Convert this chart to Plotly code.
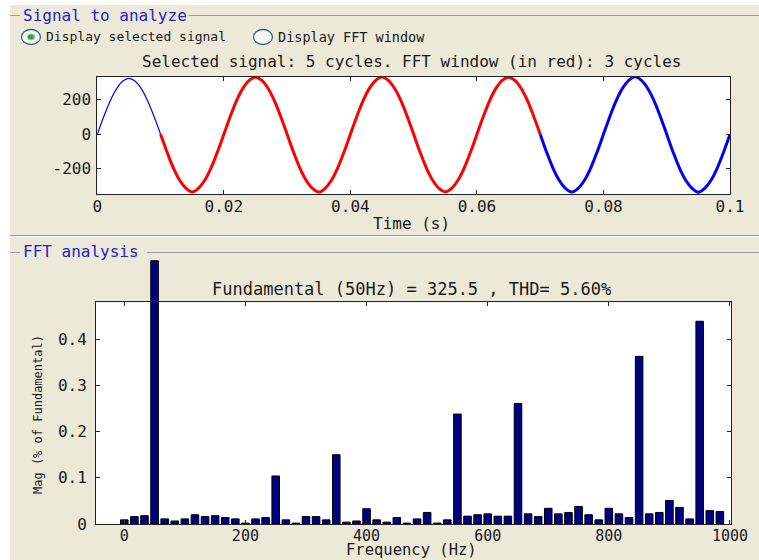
import plotly.graph_objects as go

# ---- data -------------------------------------------------------------
# selected signal, one sample per millisecond (V)
signal_t = [i / 1000 for i in range(101)]
signal_v = [
    0, 100, 190, 262, 308, 324, 308, 262, 190, 100,
    0, -101, -193, -265, -312, -334, -312, -265, -193, -101,
    0, 102, 194, 266, 313, 331, 313, 266, 194, 102,
    0, -102, -194, -266, -313, -335, -313, -266, -194, -102,
    0, 102, 194, 266, 313, 332, 313, 266, 194, 102,
    0, -102, -194, -266, -313, -333, -313, -266, -194, -102,
    0, 102, 194, 266, 313, 331, 313, 266, 194, 102,
    0, -102, -194, -266, -313, -334, -313, -266, -194, -102,
    0, 102, 194, 266, 313, 333, 313, 266, 194, 102,
    0, -102, -194, -266, -313, -336, -313, -266, -194, -102,
    0,
]
window_start, window_end = 0.01, 0.07   # FFT window (3 cycles)

# FFT bins, resolution 50/3 Hz
fft_freq = [k * 50 / 3 for k in range(60)]
fft_mag = [
    0.009, 0.016, 0.018, 0.570, 0.011, 0.0065, 0.011, 0.020, 0.016, 0.018,
    0.014, 0.011, 0.002, 0.011, 0.014, 0.104, 0.009, 0.002, 0.016, 0.016,
    0.009, 0.150, 0.004, 0.0065, 0.033, 0.009, 0.004, 0.014, 0.002, 0.011,
    0.025, 0.002, 0.009, 0.238, 0.017, 0.020, 0.022, 0.017, 0.017, 0.261,
    0.022, 0.016, 0.034, 0.022, 0.025, 0.038, 0.020, 0.009, 0.034, 0.022,
    0.014, 0.363, 0.022, 0.025, 0.051, 0.036, 0.011, 0.439, 0.029, 0.027,
]
fundamental_hz = 50

time_ticks = [0, 0.02, 0.04, 0.06, 0.08, 0.1]
time_labels = ["0", "0.02", "0.04", "0.06", "0.08", "0.1"]
volt_ticks = [-200, 0, 200]
volt_labels = ["-200", "0", "200"]
freq_ticks = [0, 200, 400, 600, 800, 1000]
freq_labels = ["0", "200", "400", "600", "800", "1000"]
mag_ticks = [0, 0.1, 0.2, 0.3, 0.4]
mag_labels = ["0", "0.1", "0.2", "0.3", "0.4"]

# ---- helpers: figure pixels -> paper coordinates ------------------------
W, H = 759, 560
FONT = "DejaVu Sans Mono"


def px(x):
    return x / W


def py(y):
    return 1 - y / H


# pixel geometry of the two axes boxes
TOP_BOX = dict(left=97.3, right=730, top=76.7, bottom=194)
FFT_BOX = dict(left=96, right=731, top=302.3, bottom=524)
MAG_MAX = 0.48
# taller invisible axis with the same scale, so the fundamental may rise above the box
BAR_TOP = 252
bar_range_top = MAG_MAX * (FFT_BOX["bottom"] - BAR_TOP) / (FFT_BOX["bottom"] - FFT_BOX["top"])

fig = go.Figure()

# signal split into: before window, FFT window, after window
i0 = signal_t.index(window_start)
i1 = signal_t.index(window_end)
segments = [
    (0, i0, "#0000ff", 1.2),
    (i0, i1, "#ff0000", 3),
    (i1, len(signal_t) - 1, "#0000ff", 3),
]
for a, b, color, width in segments:
    fig.add_trace(go.Scatter(
        x=signal_t[a:b + 1], y=signal_v[a:b + 1], mode="lines",
        line=dict(color=color, width=width, shape="spline"),
        xaxis="x", yaxis="y", hoverinfo="skip",
    ))

bar_style = dict(color="#000080", line=dict(color="#000000", width=1))
is_fund = [abs(f - fundamental_hz) < 1e-6 for f in fft_freq]
fig.add_trace(go.Bar(
    x=[f for f, m in zip(fft_freq, is_fund) if not m],
    y=[v for v, m in zip(fft_mag, is_fund) if not m],
    width=12.5, marker=bar_style, xaxis="x2", yaxis="y2",
))
fig.add_trace(go.Bar(
    x=[f for f, m in zip(fft_freq, is_fund) if m],
    y=[v for v, m in zip(fft_mag, is_fund) if m],
    width=12.5, marker=bar_style, xaxis="x2", yaxis="y3",
))

axis_common = dict(
    showgrid=False, zeroline=False, showline=True, linecolor="#222222",
    linewidth=1, mirror="ticks", ticks="inside", ticklen=4,
    tickcolor="#222222", tickmode="array",
    tickfont=dict(family=FONT, size=16, color="#1a1a1a"),
)

fig.update_layout(
    width=W, height=H, margin=dict(l=0, r=0, t=0, b=0, autoexpand=False),
    paper_bgcolor="#ece9d8", plot_bgcolor="rgba(0,0,0,0)", showlegend=False,
    xaxis=dict(domain=[px(TOP_BOX["left"]), px(TOP_BOX["right"])], range=[0, 0.1],
               anchor="y", tickvals=time_ticks, ticktext=time_labels,
               ticklabelstandoff=-2, **axis_common),
    yaxis=dict(domain=[py(TOP_BOX["bottom"]), py(TOP_BOX["top"])], range=[-346, 334],
               anchor="x", tickvals=volt_ticks, ticktext=volt_labels,
               ticklabelstandoff=2, **axis_common),
    xaxis2=dict(domain=[px(FFT_BOX["left"]), px(FFT_BOX["right"])], range=[-46.7, 1001.7],
                anchor="y2", tickvals=freq_ticks, ticktext=freq_labels,
                ticklabelstandoff=-2, **{**axis_common,
                                         "tickfont": dict(family=FONT, size=15, color="#1a1a1a")}),
    yaxis2=dict(domain=[py(FFT_BOX["bottom"]), py(FFT_BOX["top"])], range=[0, MAG_MAX],
                anchor="x2", tickvals=mag_ticks, ticktext=mag_labels,
                ticklabelstandoff=5, **axis_common),
    yaxis3=dict(domain=[py(FFT_BOX["bottom"]), py(BAR_TOP)], range=[0, bar_range_top],
                anchor="x2", visible=False, showgrid=False, zeroline=False),
)

# ---- panel decoration -------------------------------------------------
shapes = [
    dict(type="rect", xref="paper", yref="paper", x0=0, x1=px(10), y0=0, y1=1,
         fillcolor="#ffffff", line=dict(width=0), layer="below"),
    dict(type="rect", xref="paper", yref="paper", x0=0, x1=1, y0=py(5), y1=1,
         fillcolor="#ffffff", line=dict(width=0), layer="below"),
]
for box in (TOP_BOX, FFT_BOX):
    shapes.append(dict(type="rect", xref="paper", yref="paper",
                       x0=px(box["left"]), x1=px(box["right"]),
                       y0=py(box["bottom"]), y1=py(box["top"]),
                       fillcolor="#ffffff", line=dict(width=0), layer="below"))
gray = "#9c9c9c"


def hline(x0, x1, y, color=gray):
    return dict(type="line", xref="paper", yref="paper", x0=px(x0), x1=px(x1),
                y0=py(y), y1=py(y), line=dict(color=color, width=1))


shapes += [
    hline(10, 20, 15.5), hline(189, 759, 15.5),
    hline(10, 759, 235.5), hline(10, 759, 236.5, "#ffffff"),
    hline(10, 20, 252.5), hline(147, 759, 252.5),
]

# radio buttons
for cx, cy, selected in [(31, 37, True), (263, 37, False)]:
    shapes.append(dict(type="circle", xref="paper", yref="paper",
                       x0=px(cx - 9.5), x1=px(cx + 9.5), y0=py(cy + 7.5), y1=py(cy - 7.5),
                       fillcolor="#f6f6f2", line=dict(color="#3a6592", width=1.3)))
    if selected:
        shapes.append(dict(type="circle", xref="paper", yref="paper",
                           x0=px(cx - 3.5), x1=px(cx + 3.5), y0=py(cy + 3), y1=py(cy - 3),
                           fillcolor="#2ea62e", line=dict(color="#8fd08f", width=1)))
fig.update_layout(shapes=shapes)


def label(text, x, y, size=16, color="#1a1a1a", xanchor="center", yanchor="middle", angle=0):
    fig.add_annotation(text=text, x=px(x), y=py(y), xref="paper", yref="paper",
                       xanchor=xanchor, yanchor=yanchor, showarrow=False,
                       textangle=angle, borderpad=0,
                       font=dict(family=FONT, size=size, color=color))


label("Signal to analyze", 22, 15, color="#2424c4", xanchor="left")
label("FFT analysis", 22, 252, color="#2424c4", xanchor="left")
label("Display selected signal", 45, 37, size=13, xanchor="left")
label("Display FFT window", 277, 37, size=13.5, xanchor="left")
label("Selected signal: 5 cycles. FFT window (in red): 3 cycles", 411, 61.5)
label("Time (s)", 411, 223.5)
label("Fundamental (50Hz) = 325.5 , THD= 5.60%", 411, 289, size=17)
label("Frequency (Hz)", 411, 559.5, size=15.5, yanchor="bottom")
label("Mag (% of Fundamental)", 38, 415, size=12, angle=-90)

fig.write_html(
    "out.html",
    post_script="document.documentElement.style.margin='0';"
                "document.body.style.margin='0';"
                "document.body.style.overflow='hidden';",
)
